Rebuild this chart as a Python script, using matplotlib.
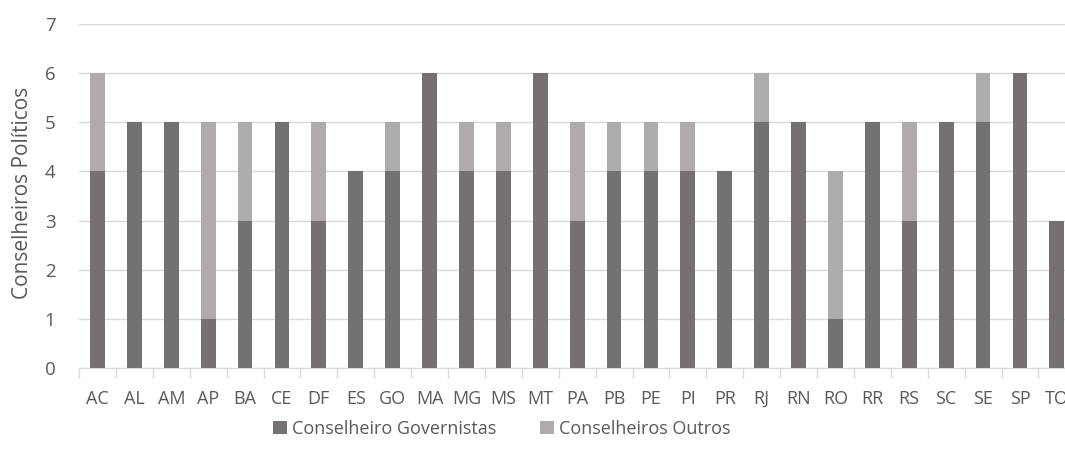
import matplotlib
matplotlib.use("Agg")
import matplotlib.pyplot as plt
import numpy as np

states = ["AC","AL","AM","AP","BA","CE","DF","ES","GO","MA","MG","MS","MT","PA",
          "PB","PE","PI","PR","RJ","RN","RO","RR","RS","SC","SE","SP","TO"]
governistas = [4,5,5,1,3,5,3,4,4,6,4,4,6,3,4,4,4,4,5,5,1,5,3,5,5,6,3]
outros =      [2,0,0,4,2,0,2,0,1,0,1,1,0,2,1,1,1,0,1,0,3,0,2,0,1,0,0]
yticks = [0,1,2,3,4,5,6,7]

plt.rcParams['font.family'] = ['Open Sans', 'DejaVu Sans']
txt = "#595959"
dark = "#767171"
light = "#AFABAB"

fig = plt.figure(figsize=(10.65, 4.61), dpi=100)
ax = fig.add_axes([79/1065, 1-368/461, 27*36.9/1065, (368-24)/461])

x = np.arange(len(states))
w = 0.40
ax.bar(x, governistas, w, color=dark, label="Conselheiro Governistas", zorder=3)
ax.bar(x, outros, w, bottom=governistas, color=light, label="Conselheiros Outros", zorder=3)

ax.set_xlim(-0.5, len(states)-0.5)
ax.set_ylim(0, 7)
ax.set_yticks(yticks)
ax.set_yticklabels([str(v) for v in yticks], fontsize=13.5, color=txt)
ax.yaxis.grid(True, color="#D9D9D9", linewidth=1, zorder=0)
ax.tick_params(axis='y', length=0, pad=17)

ax.set_xticks(x)
ax.set_xticklabels(states, fontsize=13, color=txt)
ax.tick_params(axis='x', length=0, pad=16)
ax.set_xticks(np.arange(len(states)+1)-0.5, minor=True)
ax.tick_params(axis='x', which='minor', length=7, color="#D9D9D9", width=1)

for s in ["top", "right", "left"]:
    ax.spines[s].set_visible(False)
ax.spines["bottom"].set_color("#D9D9D9")

ax.set_ylabel("Conselheiros Políticos", fontsize=15, color=txt)
ax.yaxis.set_label_coords(-0.046, 0.51)

fig.legend(loc="center", bbox_to_anchor=(502/1065, 1-429/461), ncol=2, frameon=False,
           fontsize=13, labelcolor=txt, handlelength=0.75, handleheight=0.75,
           columnspacing=2.4, handletextpad=0.3)

fig.savefig("out.png", dpi=100)
